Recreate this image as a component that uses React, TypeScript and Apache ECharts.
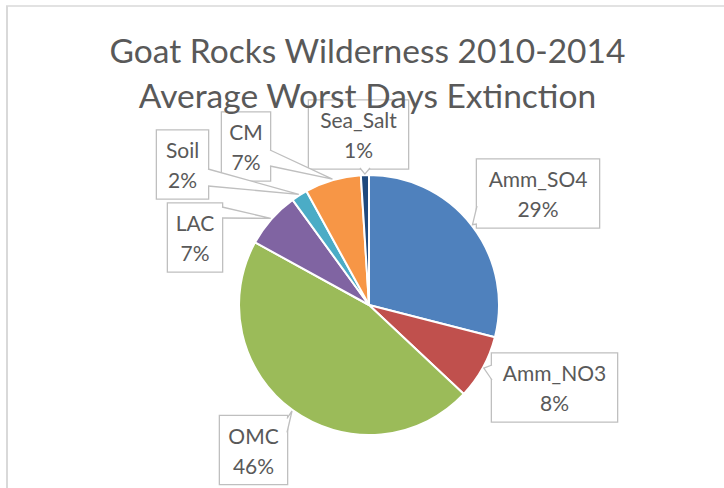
import React, { useEffect, useRef } from 'react';
import * as echarts from 'echarts';

// Title lines
const TITLE_LINES = ['Goat Rocks Wilderness 2010-2014', 'Average Worst Days Extinction'];

// Species and their share of extinction (%), clockwise from 12 o'clock
const SPECIES = ['Amm_SO4', 'Amm_NO3', 'OMC', 'LAC', 'Soil', 'CM', 'Sea_Salt'];
const SHARES = [29, 8, 46, 7, 2, 7, 1];
const COLORS = ['#4F81BD', '#C0504D', '#9BBB59', '#8064A2', '#4BACC6', '#F79646', '#1F497D'];

// Pie geometry (px)
const PIE_CX = 369;
const PIE_CY = 305;
const PIE_R = 130;

// Callout boxes: centre, width, and where the pointer leaves the box
const BOX_H = 67;
type Side = 'left' | 'right' | 'top' | 'bottom';
const CALLOUTS: { cx: number; cy: number; w: number; side: Side; a: number; b: number }[] = [
  { cx: 538, cy: 193.5, w: 122, side: 'left', a: 46, b: 64 },
  { cx: 554.5, cy: 387.5, w: 125, side: 'left', a: 11, b: 26 },
  { cx: 253.5, cy: 450, w: 67, side: 'right', a: 2, b: 16 },
  { cx: 195, cy: 237.5, w: 54, side: 'right', a: 3, b: 14 },
  { cx: 182.5, cy: 164.5, w: 51, side: 'right', a: 38, b: 55 },
  { cx: 246, cy: 146.5, w: 48, side: 'right', a: 37, b: 53 },
  { cx: 358.5, cy: 134.5, w: 99, side: 'bottom', a: 51, b: 61 },
];

const TEXT_COLOR = '#595959';
const BOX_BORDER = '#BFBFBF';
const FONT = 'Lato';

export default function App() {
  const ref = useRef<HTMLDivElement>(null);

  useEffect(() => {
    document.body.style.margin = '0';
    const chart = echarts.init(ref.current!, null, { renderer: 'svg' });

    const total = SHARES.reduce((s, v) => s + v, 0);
    const pointers: any[] = [];
    let acc = 0;
    SHARES.forEach((v, i) => {
      const mid = (acc + v / 2) / total;
      acc += v;
      const th = mid * Math.PI * 2;
      const tip = [PIE_CX + (PIE_R + 1) * Math.sin(th), PIE_CY - (PIE_R + 1) * Math.cos(th)];
      const c = CALLOUTS[i];
      const left = c.cx - c.w / 2;
      const right = c.cx + c.w / 2;
      const top = c.cy - BOX_H / 2;
      const bottom = c.cy + BOX_H / 2;
      let p1: number[], p2: number[], q1: number[], q2: number[];
      if (c.side === 'left') {
        p1 = [left, top + c.a]; p2 = [left, top + c.b];
        q1 = [left + 2, top + c.a]; q2 = [left + 2, top + c.b];
      } else if (c.side === 'right') {
        p1 = [right, top + c.a]; p2 = [right, top + c.b];
        q1 = [right - 2, top + c.a]; q2 = [right - 2, top + c.b];
      } else if (c.side === 'top') {
        p1 = [left + c.a, top]; p2 = [left + c.b, top];
        q1 = [left + c.a, top + 2]; q2 = [left + c.b, top + 2];
      } else {
        p1 = [left + c.a, bottom]; p2 = [left + c.b, bottom];
        q1 = [left + c.a, bottom - 2]; q2 = [left + c.b, bottom - 2];
      }
      pointers.push({
        type: 'polygon', z: 100, silent: true,
        shape: { points: [q1, p1, tip, p2, q2] },
        style: { fill: '#ffffff' },
      });
      pointers.push({
        type: 'polyline', z: 101, silent: true,
        shape: { points: [p1, tip, p2] },
        style: { stroke: BOX_BORDER, lineWidth: 1.3, fill: null },
      });
    });

    chart.setOption({
      animation: false,
      backgroundColor: '#ffffff',
      graphic: [
        { type: 'line', silent: true, shape: { x1: 6, y1: 6, x2: 724, y2: 6 }, style: { stroke: '#D9D9D9', lineWidth: 1.5 } },
        { type: 'line', silent: true, shape: { x1: 7, y1: 6, x2: 7, y2: 488 }, style: { stroke: '#D9D9D9', lineWidth: 2 } },
        ...pointers,
        {
          type: 'text', x: 367.5, y: 72, z: 200, silent: true,
          style: {
            text: TITLE_LINES.join('\n'),
            font: `33.5px ${FONT}`,
            fill: TEXT_COLOR,
            align: 'center',
            verticalAlign: 'middle',
            lineHeight: 45,
          },
        },
      ],
      series: [
        {
          type: 'pie',
          center: [PIE_CX, PIE_CY],
          radius: PIE_R,
          startAngle: 90,
          clockwise: true,
          avoidLabelOverlap: false,
          itemStyle: { borderColor: '#ffffff', borderWidth: 2 },
          label: {
            show: true,
            formatter: (p: any) => `${p.name}\n${Math.round(p.percent)}%`,
            color: TEXT_COLOR,
            fontFamily: FONT,
            fontSize: 21,
            lineHeight: 30,
            backgroundColor: '#ffffff',
            borderColor: BOX_BORDER,
            borderWidth: 1.3,
            padding: [4, 0],
            align: 'center',
          },
          labelLine: { show: false },
          labelLayout: (params: any) => {
            const c = CALLOUTS[params.dataIndex];
            return { x: c.cx, y: c.cy, align: 'center', verticalAlign: 'middle' };
          },
          data: SPECIES.map((name, i) => ({
            name,
            value: SHARES[i],
            itemStyle: { color: COLORS[i] },
            label: { width: CALLOUTS[i].w },
          })),
        },
      ],
    });

    return () => chart.dispose();
  }, []);

  return <div ref={ref} style={{ width: 724, height: 488 }} />;
}
